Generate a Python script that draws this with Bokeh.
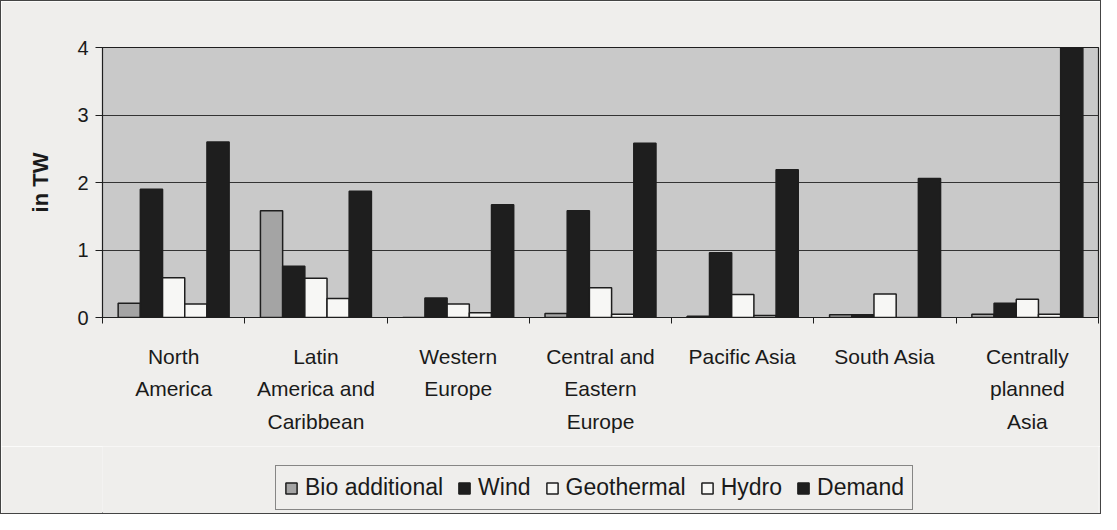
from bokeh.plotting import figure
from bokeh.layouts import column
from bokeh.models import (ColumnDataSource, FactorRange, Range1d, LinearAxis,
                          FixedTicker, Legend, LegendItem)
from bokeh.transform import dodge
from bokeh.embed import file_html
from bokeh.resources import INLINE

regions = ["North\nAmerica", "Latin\nAmerica and\nCaribbean", "Western\nEurope",
           "Central and\nEastern\nEurope", "Pacific Asia", "South Asia",
           "Centrally\nplanned\nAsia"]
bio = [0.21, 1.58, 0.00, 0.06, 0.02, 0.04, 0.05]
wind = [1.90, 0.76, 0.29, 1.58, 0.96, 0.04, 0.21]
geothermal = [0.59, 0.58, 0.20, 0.44, 0.34, 0.35, 0.27]
hydro = [0.20, 0.28, 0.07, 0.05, 0.03, 0.00, 0.05]
demand = [2.60, 1.87, 1.67, 2.58, 2.19, 2.06, 4.00]
y_ticks = [0, 1, 2, 3, 4]

source = ColumnDataSource(dict(region=regions, bio=bio, wind=wind,
                               geothermal=geothermal, hydro=hydro, demand=demand))

PAGE = "#efeeec"
INK = "#1e1e1e"
TXT = "#1a1a1a"

p = figure(x_range=FactorRange(*regions), y_range=Range1d(0, 4),
           width=1099, height=445,
           output_backend="svg", toolbar_location=None,
           min_border_left=101, min_border_right=2,
           min_border_top=46, min_border_bottom=129,
           background_fill_color="#c9c9c9", border_fill_color=PAGE,
           outline_line_color=INK, outline_line_width=1.2)

series = [("Bio additional", "bio", "#a4a4a4"),
          ("Wind", "wind", INK),
          ("Geothermal", "geothermal", "#f7f7f5"),
          ("Hydro", "hydro", "#f7f7f5"),
          ("Demand", "demand", INK)]
w = 0.156
offsets = [-2 * w, -w, 0.0, w, 2 * w]
for (label, col, color), off in zip(series, offsets):
    p.vbar(x=dodge("region", off, range=p.x_range), top=col, width=w,
           source=source, fill_color=color, line_color=INK, line_width=1.5)

# y axis
p.yaxis.ticker = FixedTicker(ticks=y_ticks)
p.yaxis.major_tick_out = 7
p.yaxis.major_tick_in = 0
p.yaxis.minor_tick_line_color = None
p.yaxis.axis_line_color = INK
p.yaxis.major_tick_line_color = INK
p.yaxis.major_label_text_font = "Liberation Sans"
p.yaxis.major_label_text_font_size = "20px"
p.yaxis.major_label_text_color = TXT
p.yaxis.major_label_standoff = 7
p.yaxis.axis_label = "in TW"
p.yaxis.axis_label_text_font = "Liberation Sans"
p.yaxis.axis_label_text_font_style = "bold"
p.yaxis.axis_label_text_font_size = "22px"
p.yaxis.axis_label_text_color = TXT
p.yaxis.axis_label_standoff = 21

p.ygrid.grid_line_color = "#333333"
p.ygrid.grid_line_width = 1.2
p.xgrid.visible = False

# category labels (the default below axis) without ticks or line
xa = p.xaxis[0]
xa.major_tick_line_color = None
xa.minor_tick_line_color = None
xa.axis_line_color = None
xa.major_label_text_font = "Liberation Sans"
xa.major_label_text_font_size = "21px"
xa.major_label_text_line_height = 1.43
xa.major_label_text_color = TXT
xa.major_label_standoff = 15

# ticks at category boundaries, on an axis placed next to the frame
tick_axis = LinearAxis(ticker=FixedTicker(ticks=list(range(len(regions) + 1))),
                       major_label_text_font_size="1px", major_label_text_alpha=0,
                       major_label_standoff=0,
                       major_tick_out=6, major_tick_in=0,
                       minor_tick_line_color=None, axis_line_color=INK,
                       major_tick_line_color=INK)
p.below = [tick_axis, xa]

# legend in its own strip beneath the chart
lg = figure(width=1099, height=67, x_range=Range1d(0, 1), y_range=Range1d(0, 1),
            output_backend="svg", toolbar_location=None,
            x_axis_location=None, y_axis_location=None,
            min_border=0, background_fill_color=PAGE, background_fill_alpha=1.0,
            border_fill_color=PAGE, outline_line_color=None)
lg.grid.visible = False
items = []
for label, col, color in series:
    # off-range proxy bar, only used to draw the legend swatch
    r = lg.vbar(x=[-5], top=[-5], width=w, fill_color=color, line_color=INK,
                line_width=1.5)
    items.append(LegendItem(label=label, renderers=[r]))
legend = Legend(items=items, orientation="horizontal", location=(173, 3),
                label_text_font="Liberation Sans", label_text_font_size="23px",
                label_text_color=TXT,
                glyph_width=14, glyph_height=14, label_standoff=7, spacing=14,
                padding=8, margin=0, label_height=22,
                border_line_color=INK, border_line_width=1.2,
                background_fill_color=PAGE, background_fill_alpha=1.0)
lg.add_layout(legend, "center")

root = column(p, lg, spacing=0, styles={"border": "1px solid #444"})

open("out.html", "w").write(file_html(root, INLINE))
